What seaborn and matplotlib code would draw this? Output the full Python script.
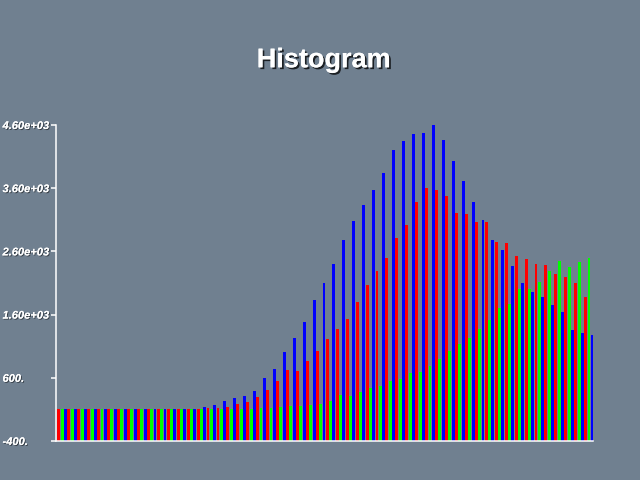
import matplotlib
matplotlib.use("Agg")
import matplotlib.pyplot as plt
import matplotlib.patheffects as pe
import pandas as pd
import seaborn as sns

# ---- data ----
bins = list(range(54))
red = [107] * 15 + [115, 123, 139, 186, 218, 297, 408, 551, 725, 709,
                    868, 1026, 1216, 1375, 1533, 1803, 2072, 2294, 2500, 2817,
                    3023, 3388, 3610, 3578, 3483, 3213, 3197, 3071, 3071, 2754,
                    2738, 2532, 2484, 2405, 2389, 2247, 2199, 2104, 1882]
green = [107] * 20 + [123, 123, 139, 155, 155, 175, 190, 234, 329, 318,
                      379, 442, 475, 553, 587, 682, 698, 793, 904, 1031,
                      1142, 1232, 1375, 1518, 1708, 1771, 1998, 1998, 2120, 2294,
                      2453, 2358, 2437, 2500]
blue = [107] * 14 + [139, 171, 234, 281, 313, 392, 598, 741, 1010, 1232,
                     1486, 1835, 2104, 2405, 2785, 3087, 3340, 3578, 3847, 4212,
                     4339, 4465, 4481, 4608, 4370, 4037, 3720, 3388, 3102, 2785,
                     2627, 2373, 2104, 1961, 1882, 1755, 1644, 1359, 1312, 1280]
channels = ["red", "green", "blue"]
channel_colors = ["#ff0000", "#00ff00", "#0000ff"]
yticks = [-400, 600, 1600, 2600, 3600, 4600]
ytick_labels = ["-400.", "600.", "1.60e+03", "2.60e+03", "3.60e+03", "4.60e+03"]
title = "Histogram"
baseline = -400

sns.set_theme(style="ticks")
plt.rcParams["font.family"] = ["Liberation Sans", "DejaVu Sans"]

df = pd.DataFrame({
    "bin": bins * 3,
    "count": red + green + blue,
    "channel": ["red"] * len(red) + ["green"] * len(green) + ["blue"] * len(blue),
})
df["height"] = df["count"] - baseline

bg = "#708090"
fig = plt.figure(figsize=(6.4, 4.8), dpi=100, facecolor=bg)
ax = fig.add_axes([56 / 640, 39 / 480, 537 / 640, 316 / 480])
ax.set_facecolor(bg)

sns.barplot(data=df, x="bin", y="height", hue="channel", hue_order=channels,
            palette=channel_colors, width=1.0, gap=0.12, linewidth=0,
            saturation=1, errorbar=None, legend=False, ax=ax, bottom=baseline)

ax.set_xlim(-0.63, 53.4)
ax.set_ylim(-400, 4600)
ax.set_xlabel("")
ax.set_ylabel("")
ax.set_xticks([])
ax.set_yticks(yticks, ytick_labels)

for s in ["top", "right"]:
    ax.spines[s].set_visible(False)
for s in ["left", "bottom"]:
    ax.spines[s].set_color("white")
    ax.spines[s].set_linewidth(1.1)

shadow = [pe.withSimplePatchShadow(offset=(0.7, -0.7), shadow_rgbFace="black", alpha=0.5), pe.Normal()]
ax.tick_params(axis="y", direction="out", length=3.6, width=1.1, color="white",
               pad=34.9, labelcolor="white", labelsize=8)
for lab in ax.get_yticklabels():
    lab.set_horizontalalignment("left")
    lab.set_fontstyle("italic")
    lab.set_fontweight("bold")
    lab.set_path_effects(shadow)

fig.text(0.506, 1 - 67.3 / 480, title, ha="center", va="baseline",
         fontsize=19.5, fontweight="bold", color="white",
         path_effects=[pe.withSimplePatchShadow(offset=(1.3, -1.3), shadow_rgbFace="black", alpha=0.75),
                       pe.Normal()])

fig.savefig("out.png", dpi=100, facecolor=bg)
